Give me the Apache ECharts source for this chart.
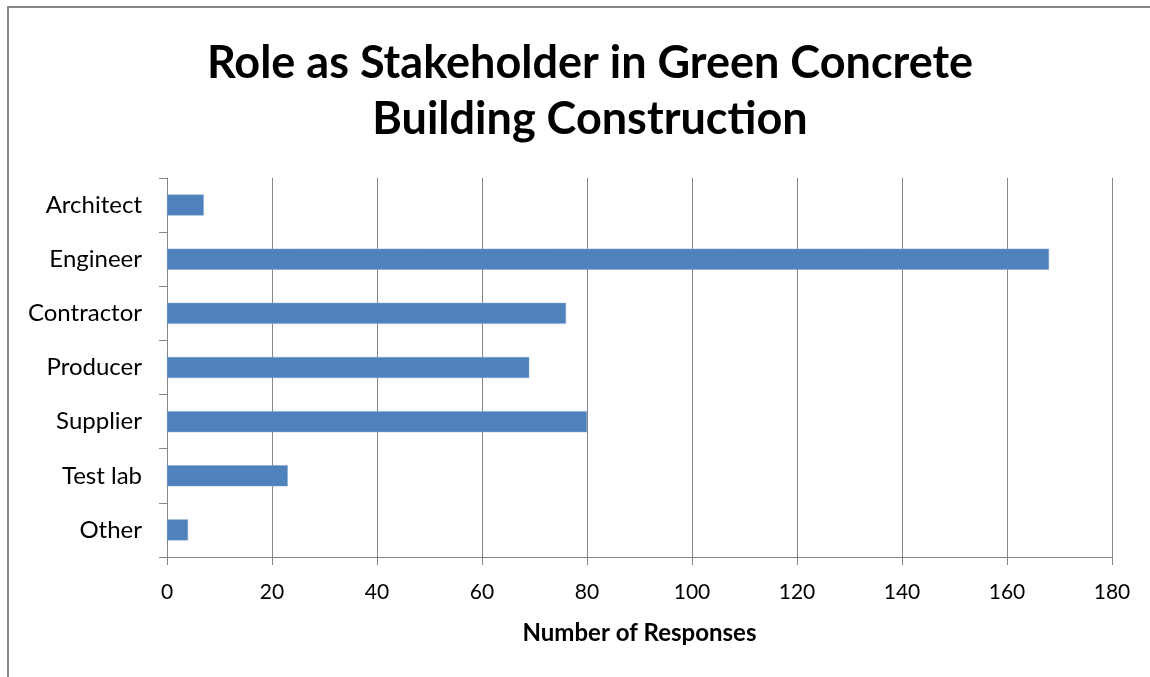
<!DOCTYPE html>
<html>
<head>
<meta charset="utf-8">
<script src="https://cdn.jsdelivr.net/npm/echarts@6/dist/echarts.min.js"></script>
<style>
  html, body { margin: 0; padding: 0; background: #fff; }
  #frame {
    position: absolute; left: 7px; top: 6px; width: 1160px; height: 700px;
    border-left: 2px solid #868686; border-top: 2px solid #868686;
  }
  #chart { position: absolute; left: 0; top: 0; width: 1150px; height: 677px; }
</style>
</head>
<body>
<div id="frame"></div>
<div id="chart"></div>
<script>
const roles = ['Architect', 'Engineer', 'Contractor', 'Producer', 'Supplier', 'Test lab', 'Other']
const responses = [7, 168, 76, 69, 80, 23, 4]
const xTicks = [0, 20, 40, 60, 80, 100, 120, 140, 160, 180]

const font = 'Lato, "Open Sans", sans-serif'
const chart = echarts.init(document.getElementById('chart'))
chart.setOption({
  animation: false,
  title: {
    text: 'Role as Stakeholder in Green Concrete\nBuilding Construction',
    left: 585,
    textAlign: 'center',
    top: 30,
    textStyle: {
      fontFamily: font,
      fontSize: 45,
      fontWeight: 'bold',
      color: '#000',
      lineHeight: 56
    }
  },
  grid: { left: 167, right: 38, top: 178, bottom: 120 },
  xAxis: {
    type: 'value',
    min: xTicks[0],
    max: xTicks[xTicks.length - 1],
    interval: 20,
    name: 'Number of Responses',
    nameLocation: 'middle',
    nameGap: 64,
    nameTextStyle: { fontFamily: font, fontSize: 24, fontWeight: 'bold', color: '#000' },
    axisLine: { show: true, lineStyle: { color: '#868686', width: 1 } },
    axisTick: { show: true, length: 8, lineStyle: { color: '#868686' } },
    axisLabel: { fontFamily: font, fontSize: 21, color: '#000', margin: 25 },
    splitLine: { show: true, lineStyle: { color: '#868686', width: 1 } }
  },
  yAxis: {
    type: 'category',
    data: roles,
    inverse: true,
    axisLine: { show: true, lineStyle: { color: '#868686', width: 1 } },
    axisTick: { show: true, length: 8, lineStyle: { color: '#868686' } },
    axisLabel: { fontFamily: font, fontSize: 24, color: '#000', margin: 25 }
  },
  series: [
    {
      type: 'bar',
      data: responses,
      barWidth: 21,
      itemStyle: { color: '#4F81BD', borderColor: '#7FA3D0', borderWidth: 0.5 }
    }
  ]
})
</script>
</body>
</html>
